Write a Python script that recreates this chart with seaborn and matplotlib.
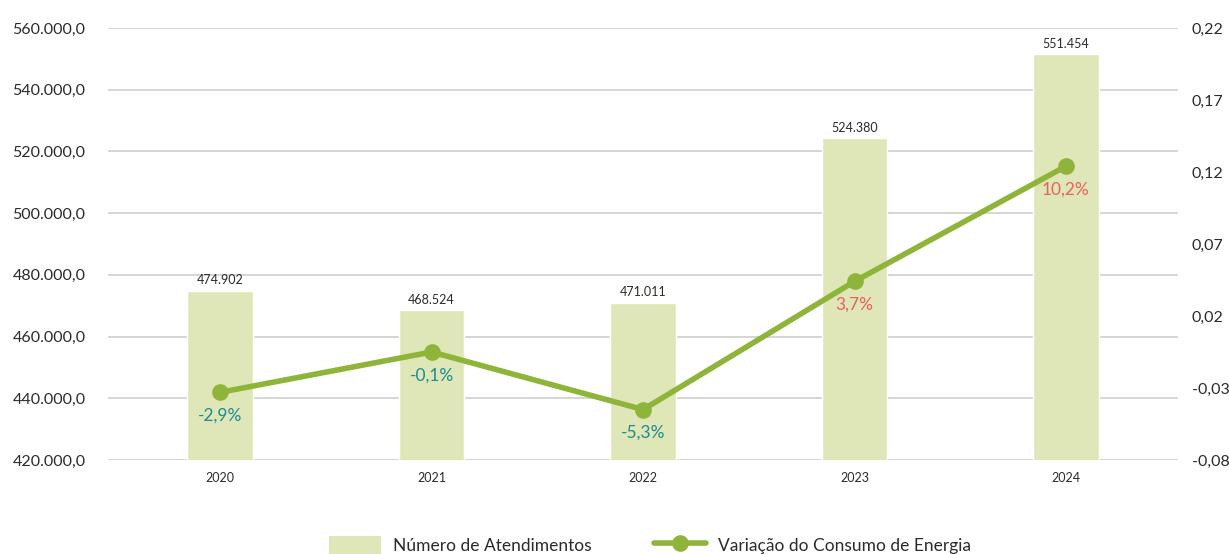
import matplotlib
matplotlib.use("Agg")
import matplotlib.pyplot as plt
from matplotlib.patches import Patch
from matplotlib.lines import Line2D
import seaborn as sns
import numpy as np
import pandas as pd

anos = ["2020", "2021", "2022", "2023", "2024"]
atendimentos = [474902, 468524, 471011, 524380, 551454]
atend_labels = ["474.902", "468.524", "471.011", "524.380", "551.454"]
# line positions, labels as printed in the chart
variacao = [-0.033, -0.005, -0.045, 0.044, 0.124]
variacao_labels = ["-2,9%", "-0,1%", "-5,3%", "3,7%", "10,2%"]

left_ticks = [420000, 440000, 460000, 480000, 500000, 520000, 540000, 560000]
right_ticks = [-0.08, -0.03, 0.02, 0.07, 0.12, 0.17, 0.22]

bar_color = "#dfe7b8"
line_color = "#8fb43a"
grid_color = "#d2d2d2"
text_color = "#2b2b2b"
neg_color = "#1f8a92"
pos_color = "#ec615b"

sns.set_theme(style="white")
plt.rcParams["font.family"] = ["Lato", "DejaVu Sans"]

df = pd.DataFrame({"ano": anos, "atend": atendimentos, "var": variacao})

fig = plt.figure(figsize=(12.29, 5.54), dpi=100)
ax = fig.add_axes([0.088, 0.1697, 0.8705, 0.7798])

for t in left_ticks:
    ax.axhline(t, color=grid_color, lw=1.3, zorder=0)

sns.barplot(data=df, x="ano", y="atend", color=bar_color, width=0.31,
            saturation=1, ax=ax, zorder=2)
ax.set_ylim(420000, 560000)
ax.set_xlim(-0.53, 4.53)
ax.set_yticks(left_ticks)
ax.set_yticklabels([f"{t:,.1f}".replace(",", "X").replace(".", ",").replace("X", ".")
                    for t in left_ticks], fontsize=11.5, color=text_color, ha="left")
ax.tick_params(axis="y", length=0, pad=69)
ax.tick_params(axis="x", length=0, pad=9, labelsize=9, labelcolor=text_color)
ax.set_xlabel("")
ax.set_ylabel("")
for s in ax.spines.values():
    s.set_visible(False)

for i, (v, lab) in enumerate(zip(atendimentos, atend_labels)):
    ax.annotate(lab, (i, v), xytext=(0, 3), textcoords="offset points",
                ha="center", va="bottom", fontsize=9, color=text_color)

ax2 = ax.twinx()
sns.lineplot(x=np.arange(len(anos)), y=variacao, ax=ax2, color=line_color,
             lw=4, marker="o", markersize=12, markeredgewidth=0, zorder=3)
ax2.set_ylim(-0.08, 0.22)
ax2.set_yticks(right_ticks)
ax2.set_yticklabels([f"{t:.2f}".replace(".", ",") for t in right_ticks],
                    fontsize=11.5, color=text_color)
ax2.tick_params(axis="y", length=0, pad=10)
for s in ax2.spines.values():
    s.set_visible(False)

for i, (v, lab) in enumerate(zip(variacao, variacao_labels)):
    c = neg_color if lab.startswith("-") else pos_color
    ax2.annotate(lab, (i, v), xytext=(0, -11), textcoords="offset points",
                 ha="center", va="top", fontsize=12.5, color=c)

handles = [
    Patch(facecolor=bar_color, edgecolor="none"),
    Line2D([0], [0], color=line_color, lw=4, marker="o", markersize=12,
           markeredgewidth=0),
]
fig.legend(handles, ["Número de Atendimentos", "Variação do Consumo de Energia"],
           loc="lower center", bbox_to_anchor=(0.529, -0.028), ncol=2, frameon=False,
           fontsize=12.5, handlelength=3.0, handleheight=1.2, columnspacing=3.6,
           handletextpad=0.7, labelcolor=text_color)

fig.savefig("out.png", dpi=100)
